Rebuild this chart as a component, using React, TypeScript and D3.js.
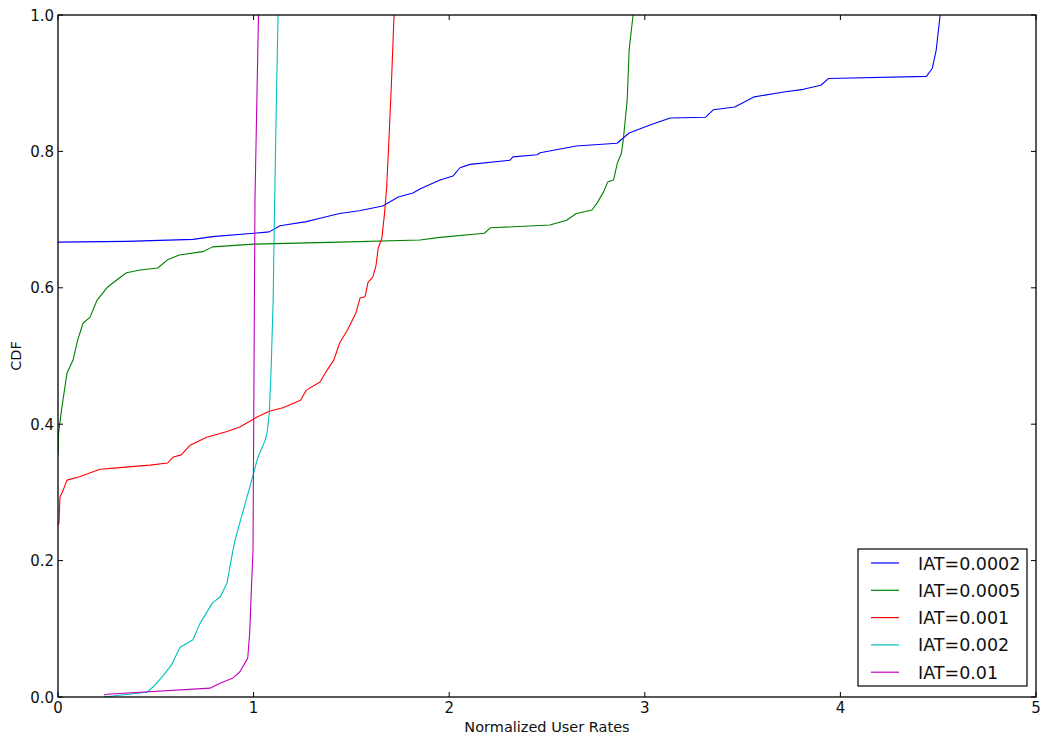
import React from "react";
import * as d3 from "d3";

const xTicks = [0, 1, 2, 3, 4, 5];
const yTicks = [0, 0.2, 0.4, 0.6, 0.8, 1.0];

const blue: [number, number][] = [
  [0, 0.667], [0.35, 0.668], [0.69, 0.671], [0.79, 0.675], [1.0, 0.68], [1.08, 0.682], [1.135, 0.691],
  [1.27, 0.697], [1.34, 0.702], [1.44, 0.709], [1.54, 0.713], [1.66, 0.72], [1.74, 0.733], [1.815, 0.739],
  [1.85, 0.745], [1.953, 0.758], [2.02, 0.764], [2.055, 0.776], [2.107, 0.781], [2.31, 0.787], [2.326, 0.792],
  [2.45, 0.795], [2.465, 0.798], [2.65, 0.808], [2.858, 0.812], [2.92, 0.827], [3.03, 0.839], [3.13, 0.849], [3.31, 0.85],
  [3.35, 0.861], [3.46, 0.865], [3.56, 0.88], [3.71, 0.887], [3.81, 0.891], [3.9, 0.897], [3.94, 0.907],
  [4.44, 0.91], [4.47, 0.922], [4.49, 0.949], [4.51, 1.0],
];
const green: [number, number][] = [
  [0, 0.355], [0.003, 0.387], [0.02, 0.425], [0.046, 0.475], [0.077, 0.494], [0.1, 0.523], [0.128, 0.548],
  [0.164, 0.557], [0.2, 0.582], [0.25, 0.6], [0.28, 0.607], [0.35, 0.622], [0.42, 0.626], [0.51, 0.629],
  [0.56, 0.641], [0.62, 0.648], [0.74, 0.653], [0.79, 0.66], [1.0, 0.664], [1.44, 0.667], [1.85, 0.670],
  [1.953, 0.674], [2.18, 0.68], [2.21, 0.688], [2.515, 0.692], [2.6, 0.699], [2.65, 0.709], [2.73, 0.714],
  [2.76, 0.726], [2.79, 0.741], [2.81, 0.755], [2.84, 0.758], [2.86, 0.783], [2.88, 0.797], [2.89, 0.817],
  [2.91, 0.875], [2.92, 0.949], [2.94, 1.0],
];
const red: [number, number][] = [
  [0, 0.252], [0.005, 0.255], [0.01, 0.293], [0.026, 0.303], [0.046, 0.318], [0.11, 0.323], [0.215, 0.334],
  [0.3, 0.336], [0.47, 0.34], [0.56, 0.343], [0.59, 0.352], [0.63, 0.355], [0.675, 0.369], [0.76, 0.381],
  [0.86, 0.389], [0.93, 0.396], [1.02, 0.411], [1.08, 0.419], [1.15, 0.424], [1.24, 0.435], [1.27, 0.45],
  [1.34, 0.462], [1.375, 0.479], [1.41, 0.494], [1.44, 0.519], [1.48, 0.538], [1.523, 0.563], [1.544, 0.585],
  [1.57, 0.587], [1.585, 0.608], [1.61, 0.616], [1.626, 0.633], [1.637, 0.658], [1.656, 0.673], [1.67, 0.711],
  [1.68, 0.746], [1.69, 0.805], [1.705, 0.902], [1.718, 1.0],
];
const cyan: [number, number][] = [
  [0.235, 0.0], [0.455, 0.007], [0.487, 0.015], [0.54, 0.032], [0.58, 0.047], [0.624, 0.073], [0.69, 0.084],
  [0.726, 0.108], [0.79, 0.138], [0.83, 0.147], [0.864, 0.167], [0.895, 0.216], [0.905, 0.23], [0.966, 0.293],
  [1.0, 0.328], [1.02, 0.35], [1.06, 0.377], [1.07, 0.39], [1.08, 0.416], [1.09, 0.484], [1.1, 0.582],
  [1.105, 0.68], [1.115, 0.85], [1.125, 1.0],
];
const magenta: [number, number][] = [
  [0.235, 0.003], [0.25, 0.004], [0.777, 0.013], [0.828, 0.02], [0.895, 0.028], [0.93, 0.037], [0.97, 0.057],
  [0.98, 0.094], [0.99, 0.167], [0.997, 0.216], [1.007, 0.729], [1.025, 1.0],
];

const seriesNames = ["IAT=0.0002", "IAT=0.0005", "IAT=0.001", "IAT=0.002", "IAT=0.01"];
const seriesColors = ["#0000ff", "#008000", "#ff0000", "#00bfbf", "#bf00bf"];
const seriesData = [blue, green, red, cyan, magenta];

export default function App() {
  const W = 1042, H = 736;
  const L = 58, R = 1036, T = 15, B = 697;
  const x = d3.scaleLinear().domain([0, 5]).range([L, R]);
  const y = d3.scaleLinear().domain([0, 1]).range([B, T]);
  const line = d3.line<[number, number]>().x((d) => x(d[0])).y((d) => y(d[1]));
  const font = "'DejaVu Sans', sans-serif";
  const tick = 5;
  const lgX = 858, lgY = 549, lgW = 169, lgH = 137;
  return (
    <svg width={W} height={H} style={{ position: "absolute", left: 0, top: 0, background: "#fff" }}>
      <rect x={0} y={0} width={W} height={H} fill="#fff" />
      <defs>
        <clipPath id="clip">
          <rect x={L} y={T - 1} width={R - L} height={B - T + 2} />
        </clipPath>
      </defs>
      <g clipPath="url(#clip)">
        {seriesData.map((s, i) => (
          <path key={i} d={line(s) || ""} fill="none" stroke={seriesColors[i]} strokeWidth={1.1} strokeLinejoin="round" />
        ))}
      </g>
      <rect x={L} y={T} width={R - L} height={B - T} fill="none" stroke="#000" strokeWidth={1.3} />
      {xTicks.map((t) => (
        <g key={"x" + t}>
          <line x1={x(t)} x2={x(t)} y1={B} y2={B - tick} stroke="#000" />
          <line x1={x(t)} x2={x(t)} y1={T} y2={T + tick} stroke="#000" />
          <text x={x(t)} y={713} textAnchor="middle" fontFamily={font} fontSize={15} fill="#111">
            {d3.format("d")(t)}
          </text>
        </g>
      ))}
      {yTicks.map((t) => (
        <g key={"y" + t}>
          <line x1={L} x2={L + tick} y1={y(t)} y2={y(t)} stroke="#000" />
          <line x1={R} x2={R - tick} y1={y(t)} y2={y(t)} stroke="#000" />
          <text x={L - 4} y={y(t) + 5.5} textAnchor="end" fontFamily={font} fontSize={15} fill="#111">
            {d3.format(".1f")(t)}
          </text>
        </g>
      ))}
      <text x={(L + R) / 2} y={732} textAnchor="middle" fontFamily={font} fontSize={14.5} fill="#111">
        Normalized User Rates
      </text>
      <text transform={`translate(21,${(T + B) / 2}) rotate(-90)`} textAnchor="middle" fontFamily={font} fontSize={14.5} fill="#111">
        CDF
      </text>
      <rect x={lgX} y={lgY} width={lgW} height={lgH} fill="#fff" stroke="#000" strokeWidth={1.2} />
      {seriesNames.map((n, i) => {
        const yy = 563 + i * 27.3;
        return (
          <g key={n}>
            <line x1={871} x2={899} y1={yy} y2={yy} stroke={seriesColors[i]} strokeWidth={1.2} />
            <text x={918} y={yy + 6.5} fontFamily={font} fontSize={17.5} fill="#111">
              {n}
            </text>
          </g>
        );
      })}
    </svg>
  );
}
